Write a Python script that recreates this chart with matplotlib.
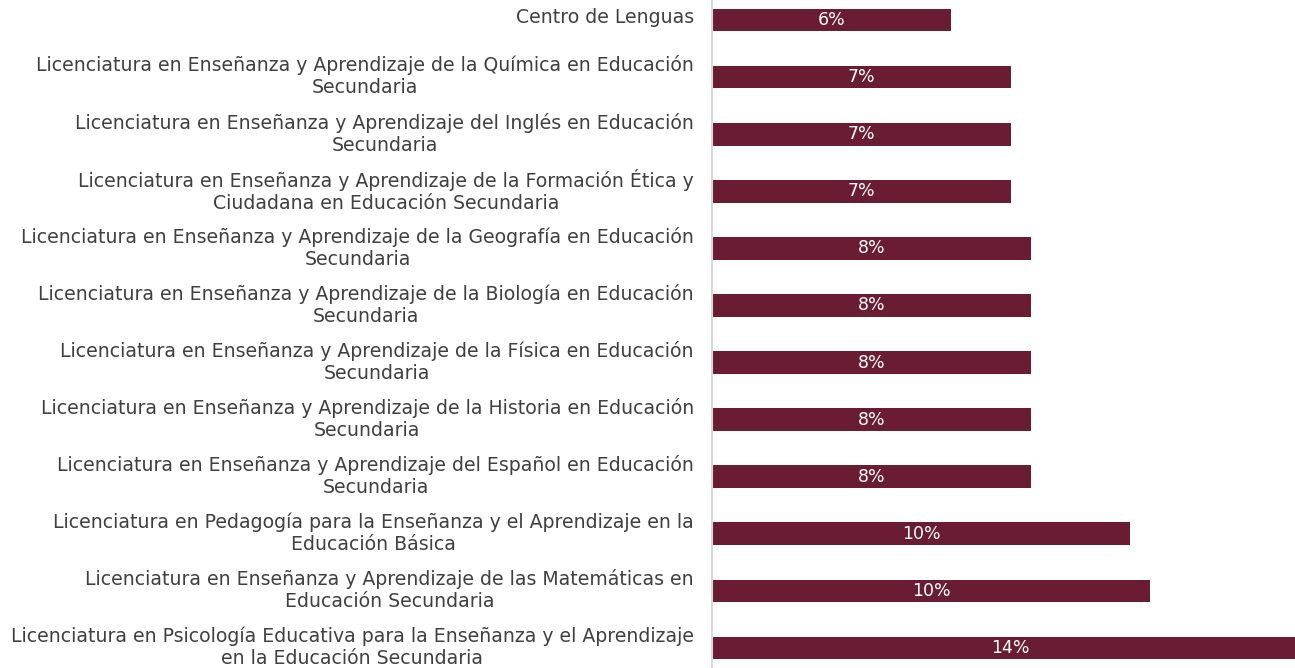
import numpy as np
import matplotlib.pyplot as plt
from matplotlib.transforms import ScaledTranslation

plt.rcParams['font.family'] = ['DejaVu Sans']

programas = [
    'Centro de Lenguas',
    'Licenciatura en Enseñanza y Aprendizaje de la Química en Educación\nSecundaria',
    'Licenciatura en Enseñanza y Aprendizaje del Inglés en Educación\nSecundaria',
    'Licenciatura en Enseñanza y Aprendizaje de la Formación Ética y\nCiudadana en Educación Secundaria',
    'Licenciatura en Enseñanza y Aprendizaje de la Geografía en Educación\nSecundaria',
    'Licenciatura en Enseñanza y Aprendizaje de la Biología en Educación\nSecundaria',
    'Licenciatura en Enseñanza y Aprendizaje de la Física en Educación\nSecundaria',
    'Licenciatura en Enseñanza y Aprendizaje de la Historia en Educación\nSecundaria',
    'Licenciatura en Enseñanza y Aprendizaje del Español en Educación\nSecundaria',
    'Licenciatura en Pedagogía para la Enseñanza y el Aprendizaje en la\nEducación Básica',
    'Licenciatura en Enseñanza y Aprendizaje de las Matemáticas en\nEducación Secundaria',
    'Licenciatura en Psicología Educativa para la Enseñanza y el Aprendizaje\nen la Educación Secundaria',
]
alumnos = [12, 15, 15, 15, 16, 16, 16, 16, 16, 21, 22, 30]

pct = np.array(alumnos) / sum(alumnos) * 100
y = np.arange(len(programas))

fig = plt.figure(figsize=(12.95, 6.68), dpi=100)
ax = fig.add_axes([712 / 1295, 0, 1 - 712 / 1295, 1])

bars = ax.barh(y, pct, height=0.40, color='#691c32')
for b, v in zip(bars, pct):
    ax.text(b.get_x() + b.get_width() / 2, b.get_y() + b.get_height() / 2,
            f'{v:.0f}%', ha='center', va='center', color='white', fontsize=12.5)

ax.set_xlim(0, 13.94)
ax.set_ylim(len(programas) - 0.65, -0.35)
ax.set_yticks(y)
ax.set_yticklabels(programas, fontsize=13.6, color='#404040',
                   multialignment='center', linespacing=1.2)
ax.tick_params(axis='y', length=0, pad=13)
ax.set_xticks([])

# nudge the category labels up a little so the last one stays inside the figure
shift = ScaledTranslation(0, 3 / 72, fig.dpi_scale_trans)
for lbl in ax.get_yticklabels():
    lbl.set_transform(lbl.get_transform() + shift)

for s in ['top', 'right', 'bottom']:
    ax.spines[s].set_visible(False)
ax.spines['left'].set_color('#d9d9d9')
ax.spines['left'].set_linewidth(1.5)

fig.savefig('out.png', dpi=100)
